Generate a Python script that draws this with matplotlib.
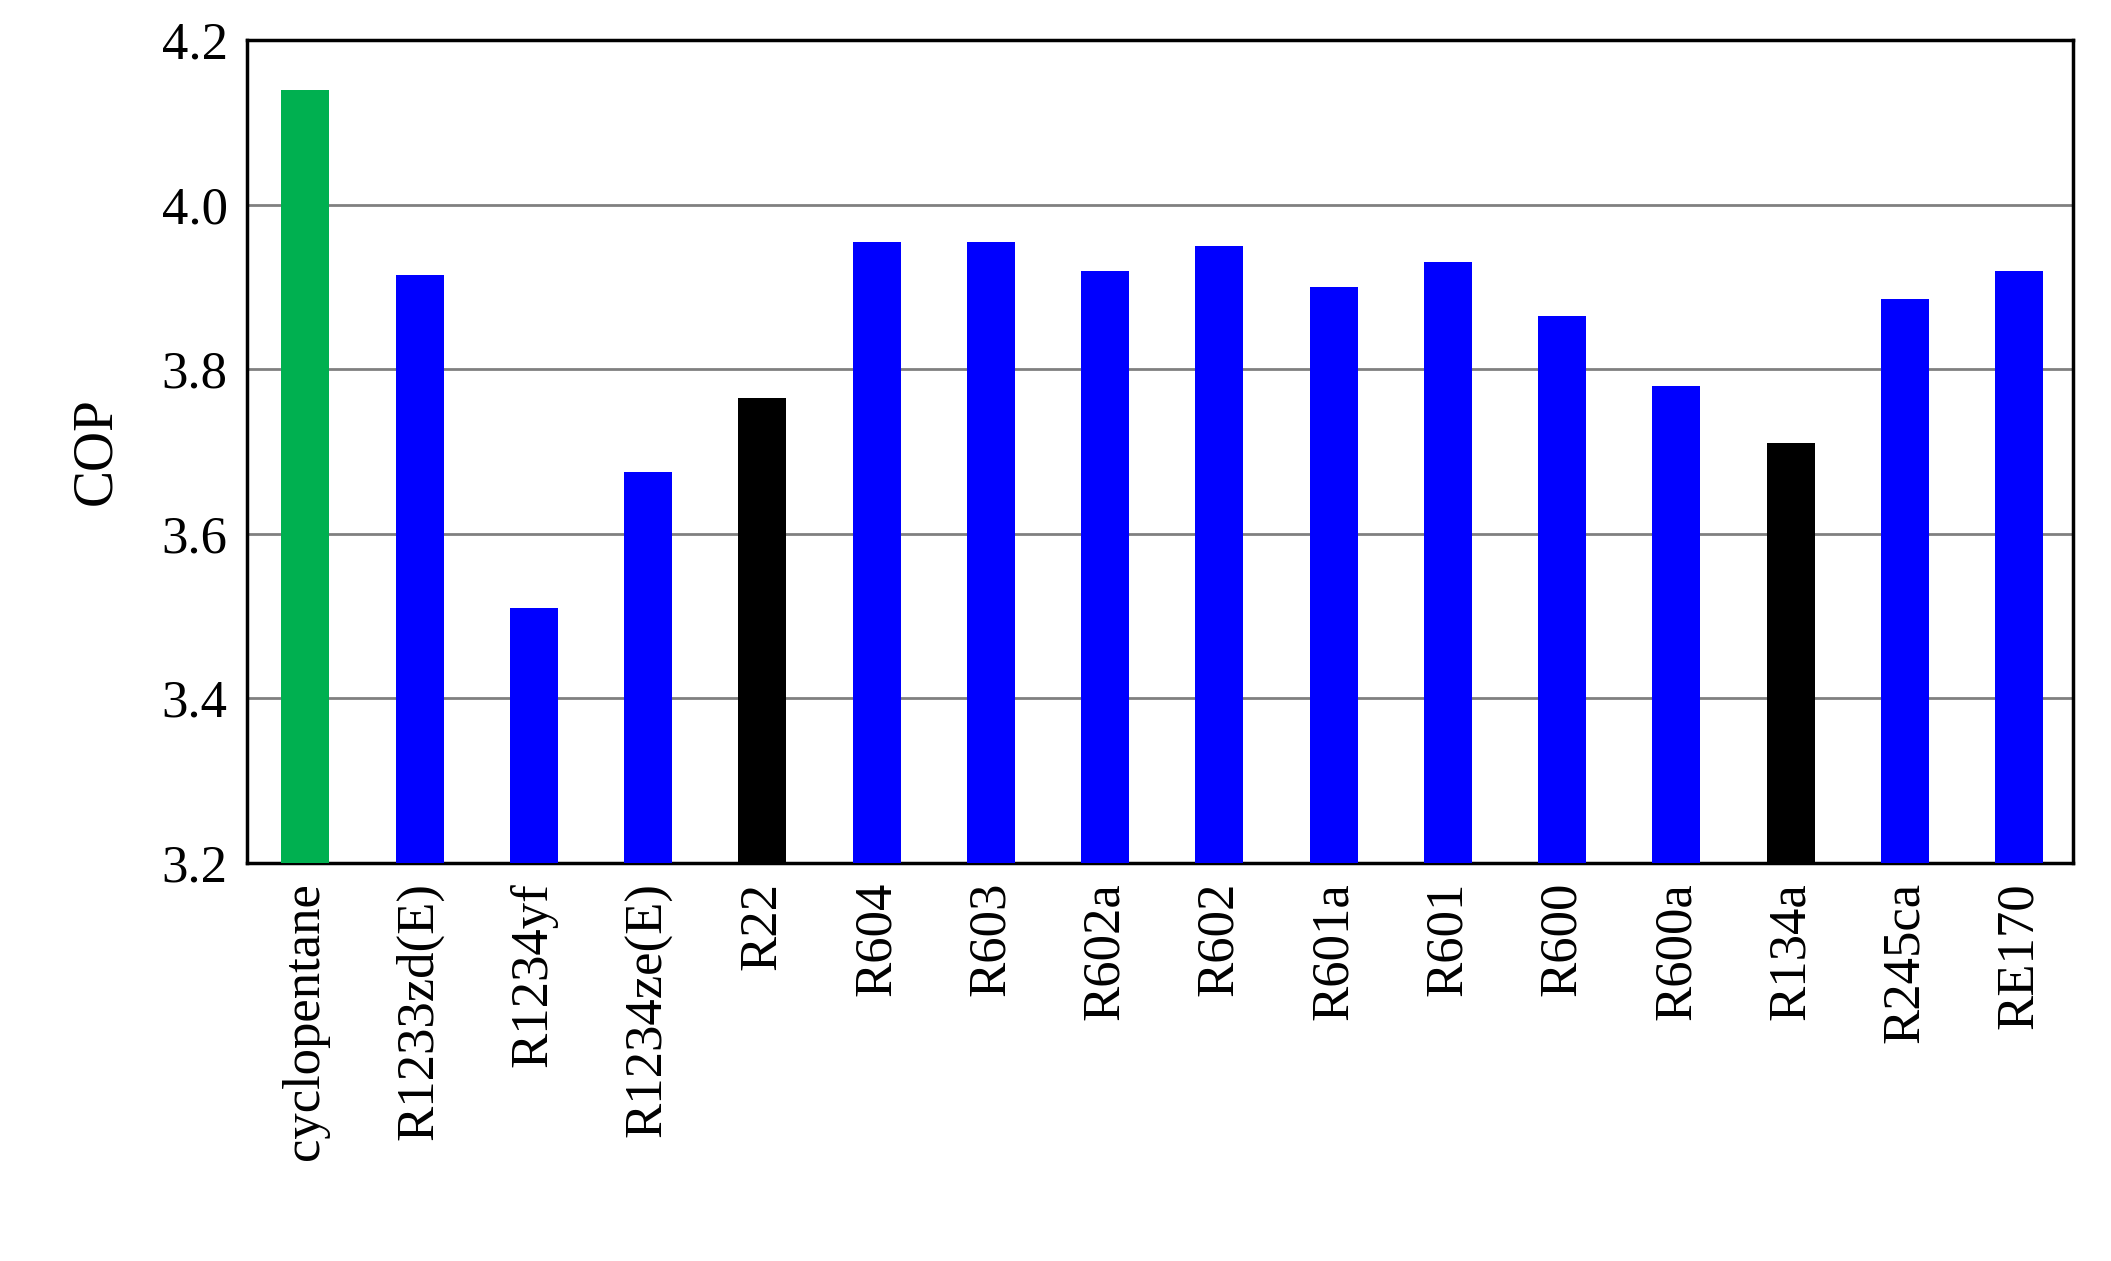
import matplotlib
matplotlib.use("Agg")
import matplotlib.pyplot as plt
import numpy as np

refrigerants = ["cyclopentane", "R1233zd(E)", "R1234yf", "R1234ze(E)", "R22",
                "R604", "R603", "R602a", "R602", "R601a", "R601", "R600",
                "R600a", "R134a", "R245ca", "RE170"]
cop = [4.14, 3.915, 3.51, 3.675, 3.765, 3.955, 3.955, 3.92, 3.95, 3.90,
       3.93, 3.865, 3.78, 3.71, 3.885, 3.92]
colors = ["#00b050"] + ["#0000ff"] * 3 + ["#000000"] + ["#0000ff"] * 8 + ["#000000"] + ["#0000ff"] * 2

plt.rcParams["font.family"] = "serif"
plt.rcParams["font.serif"] = ["Liberation Serif", "DejaVu Serif"]

fig = plt.figure(figsize=(21.11, 12.61), dpi=100)
ax = fig.add_axes([0.117, 0.316, 0.865, 0.652])

x = np.arange(len(refrigerants))
ax.bar(x, cop, width=0.42, color=colors, zorder=3)
ax.set_ylim(3.2, 4.2)
ax.set_xlim(-0.51, len(refrigerants) - 0.53)
ax.set_yticks([3.2, 3.4, 3.6, 3.8, 4.0, 4.2])
ax.set_yticklabels(["3.2", "3.4", "3.6", "3.8", "4.0", "4.2"])
for y in [3.4, 3.6, 3.8, 4.0]:
    ax.axhline(y, color="#808080", lw=2, zorder=1)
ax.set_xticks(x)
ax.set_xticklabels(refrigerants, rotation=90)
ax.tick_params(length=0, labelsize=38, pad=14)
ax.set_ylabel("COP", fontsize=40, labelpad=28)
for s in ax.spines.values():
    s.set_linewidth(2.5)

fig.savefig("out.png", dpi=100)
